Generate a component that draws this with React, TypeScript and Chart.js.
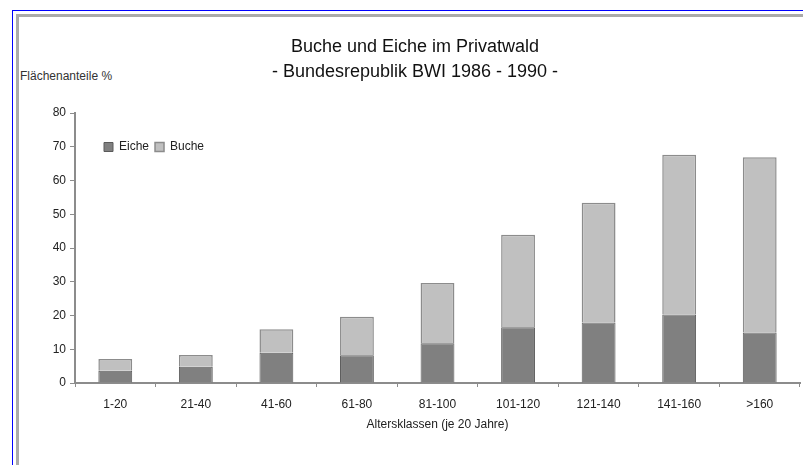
import React, { useEffect, useRef } from 'react';
import { Chart, registerables } from 'chart.js';

Chart.register(...registerables);

const categories = ['1-20', '21-40', '41-60', '61-80', '81-100', '101-120', '121-140', '141-160', '>160'];
const eiche = [3.6, 4.8, 9.0, 8.2, 11.8, 16.5, 17.9, 20.3, 15.0];
const buche = [3.5, 3.5, 6.9, 11.4, 17.8, 27.4, 35.5, 47.3, 51.9];
const yTickValues = [0, 10, 20, 30, 40, 50, 60, 70, 80];
const titleLines = ['Buche und Eiche im Privatwald', '- Bundesrepublik BWI 1986 - 1990 -'];
const seriesNames = ['Eiche', 'Buche'];
const yAxisLabel = 'Flächenanteile %';
const xAxisLabel = 'Altersklassen (je 20 Jahre)';

const FONT = '"Liberation Sans", Arial, sans-serif';

export default function App() {
  const canvasRef = useRef<HTMLCanvasElement | null>(null);

  useEffect(() => {
    if (!canvasRef.current) return;
    const legendInPlot = {
      id: 'legendInPlot',
      beforeLayout(chart: any) {
        const l = chart.legend;
        if (l) l.isHorizontal = () => true;
      },
      afterLayout(chart: any) {
        const l = chart.legend;
        const ca = chart.chartArea;
        if (l && ca) {
          const w = l.width;
          const h = l.height;
          l.left = ca.left + 23;
          l.right = l.left + w;
          l.top = ca.top + 22;
          l.bottom = l.top + h;
        }
      },
    };
    const chart = new Chart(canvasRef.current, {
      type: 'bar',
      data: {
        labels: categories,
        datasets: [
          {
            label: seriesNames[0],
            data: eiche,
            backgroundColor: '#808080',
            borderColor: '#5a5a5a',
            borderWidth: 1,
            barPercentage: 0.42,
            categoryPercentage: 1,
          },
          {
            label: seriesNames[1],
            data: buche,
            backgroundColor: '#c0c0c0',
            borderColor: '#8c8c8c',
            borderWidth: 1.5,
            barPercentage: 0.42,
            categoryPercentage: 1,
          },
        ],
      },
      options: {
        animation: false,
        responsive: false,
        devicePixelRatio: 1,
        layout: { padding: { left: 30, right: 3, top: 10, bottom: 32.8 } },
        font: { family: FONT },
        plugins: {
          title: {
            display: true,
            text: titleLines,
            color: '#111',
            font: { family: FONT, size: 18, weight: 'normal', lineHeight: 1.4 },
            padding: { top: 24.4, bottom: 28.2 },
          },
          legend: {
            position: 'chartArea',
            align: 'start',
            labels: {
              boxWidth: 9,
              boxHeight: 9,
              padding: 6,
              color: '#222',
              font: { family: FONT, size: 12 },
            },
          },
          tooltip: { enabled: false },
        },
        scales: {
          x: {
            stacked: true,
            afterFit: (s: any) => { s.height = 49.2; },
            border: { display: true, color: '#8c8c8c', width: 2 },
            grid: { display: true, drawOnChartArea: false, drawTicks: true, tickLength: 4, color: '#8c8c8c', offset: true },
            ticks: { color: '#222', padding: 10, font: { family: FONT, size: 12 }, maxRotation: 0, autoSkip: false },
            title: {
              display: true,
              text: xAxisLabel,
              color: '#222',
              font: { family: FONT, size: 12, lineHeight: 1.2 },
              padding: { top: 6.4, bottom: 0 },
            },
          },
          y: {
            stacked: true,
            min: 0,
            max: 80,
            afterFit: (s: any) => { s.width = 45; },
            afterBuildTicks: (s: any) => { s.ticks = yTickValues.map((v) => ({ value: v })); },
            border: { display: true, color: '#8c8c8c', width: 2 },
            grid: { display: true, drawOnChartArea: false, drawTicks: true, tickLength: 5, color: '#8c8c8c' },
            ticks: { color: '#222', padding: 4, font: { family: FONT, size: 12 } },
          },
        },
      },
      plugins: [legendInPlot],
    } as any);
    return () => chart.destroy();
  }, []);

  return (
    <div style={{ position: 'absolute', left: 0, top: 0, width: 803, height: 465, background: '#fff', overflow: 'hidden' }}>
      <div style={{ position: 'absolute', left: 12, top: 10, width: 800, height: 460, borderLeft: '1px solid #0000ff', borderTop: '1px solid #0000ff' }} />
      <div style={{ position: 'absolute', left: 16, top: 14, width: 800, height: 460, borderLeft: '3px solid #aaaaaa', borderTop: '3px solid #aaaaaa' }} />
      <div style={{ position: 'absolute', left: 20, top: 69, fontFamily: FONT, fontSize: 12, lineHeight: '14px', color: '#333', whiteSpace: 'nowrap' }}>{yAxisLabel}</div>
      <canvas ref={canvasRef} width={803} height={465} style={{ position: 'absolute', left: 0, top: 0, width: 803, height: 465 }} />
    </div>
  );
}
